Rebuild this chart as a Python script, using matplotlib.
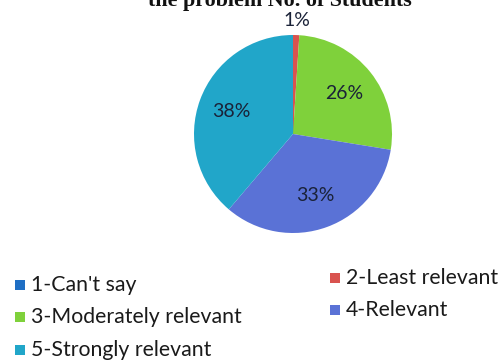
import matplotlib
matplotlib.use("Agg")
import matplotlib.pyplot as plt
from matplotlib.patches import Rectangle
import numpy as np

categories = ["1-Can't say", "2-Least relevant", "3-Moderately relevant",
              "4-Relevant", "5-Strongly relevant"]
percent = [0, 1, 26, 33, 38]
colors = ["#1f6fc4", "#d9534f", "#7fd13b", "#5a72d6", "#21a6c9"]
title = "the problem No. of Students"

W, H = 502, 364
fig = plt.figure(figsize=(W / 100, H / 100), dpi=100)
fig.patch.set_facecolor("white")


def fx(px):
    return px / W


def fy(py):
    return 1 - py / H


# title, partly above the top edge
fig.text(fx(280), fy(6), title, ha="center", va="baseline",
         fontsize=15.8, fontweight="bold", family="Liberation Serif",
         color="#111111")

# pie
cx, cy, r = 293, 134, 99
ax = fig.add_axes([fx(cx - r), fy(cy + r), 2 * r / W, 2 * r / H])
wedges, _ = ax.pie(percent, colors=colors, startangle=90, counterclock=False,
                   wedgeprops=dict(linewidth=0))
wedges[0].set_edgecolor(colors[0])
wedges[0].set_linewidth(1.2)
ax.set_xlim(-1, 1)
ax.set_ylim(-1, 1)
ax.set_aspect("equal")
ax.axis("off")

label_font = dict(family="Lato", fontsize=14, color="#1a2238")
for w, v in zip(wedges, percent):
    if v == 0:
        continue
    mid = np.deg2rad((w.theta1 + w.theta2) / 2)
    dist = 1.15 if v < 5 else 0.66
    ax.text(dist * np.cos(mid), dist * np.sin(mid), f"{v}%",
            ha="center", va="center", clip_on=False, **label_font)

# legend, two columns
legend_pos = [(15, 285), (330, 278), (15, 317), (330, 310), (15, 350)]
for (lx, ly), name, c in zip(legend_pos, categories, colors):
    fig.patches.append(Rectangle((fx(lx), fy(ly + 5)), 10 / W, 10 / H,
                                 transform=fig.transFigure, facecolor=c,
                                 edgecolor="none"))
    fig.text(fx(lx + 16), fy(ly), name, ha="left", va="center",
             family="Lato", fontsize=15.3, color="#1a1a1a")

fig.savefig("out.png", dpi=100, facecolor="white")
